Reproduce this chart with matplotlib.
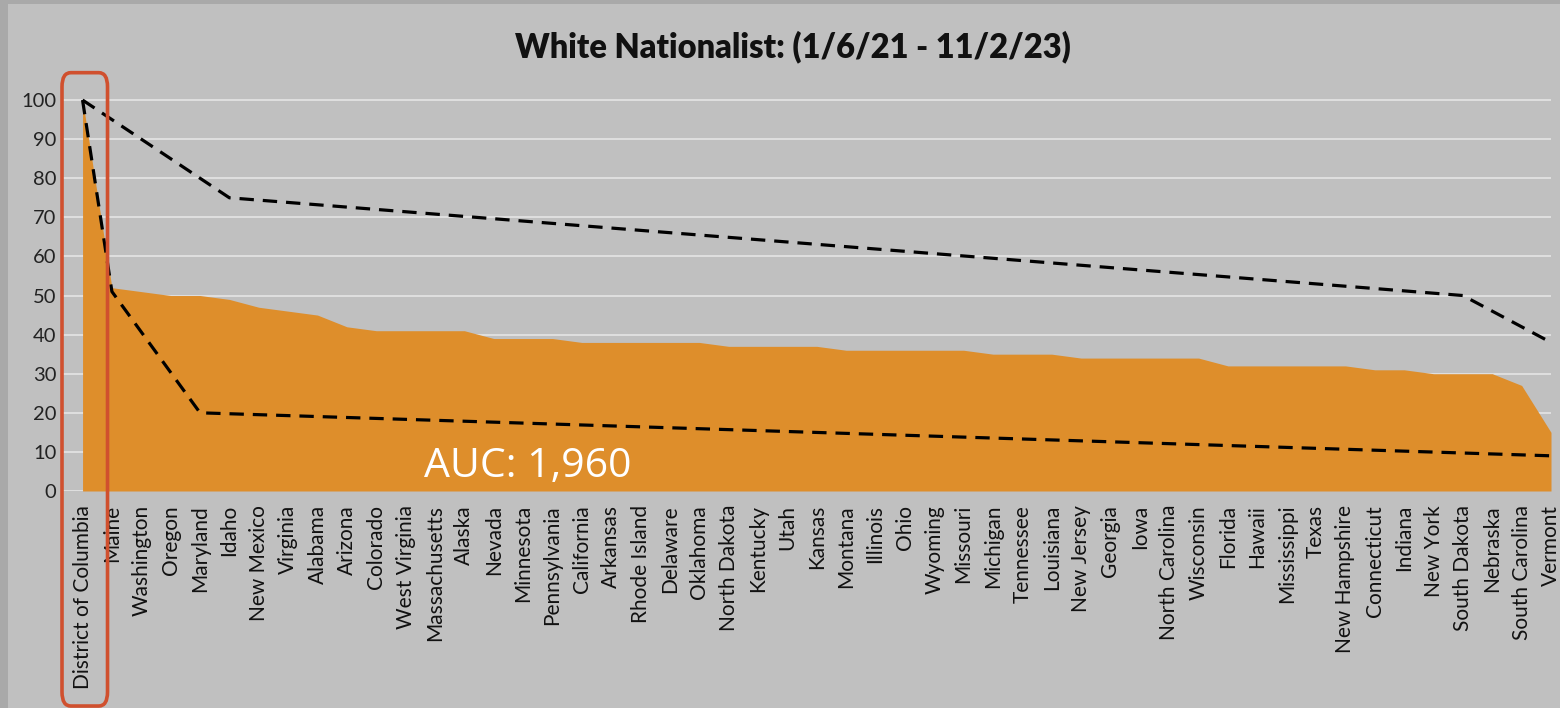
import matplotlib
matplotlib.use("Agg")
import matplotlib.pyplot as plt
from matplotlib.patches import FancyBboxPatch, Rectangle
import numpy as np

states = [
    "District of Columbia", "Maine", "Washington", "Oregon", "Maryland", "Idaho",
    "New Mexico", "Virginia", "Alabama", "Arizona", "Colorado", "West Virginia",
    "Massachusetts", "Alaska", "Nevada", "Minnesota", "Pennsylvania", "California",
    "Arkansas", "Rhode Island", "Delaware", "Oklahoma", "North Dakota", "Kentucky",
    "Utah", "Kansas", "Montana", "Illinois", "Ohio", "Wyoming", "Missouri",
    "Michigan", "Tennessee", "Louisiana", "New Jersey", "Georgia", "Iowa",
    "North Carolina", "Wisconsin", "Florida", "Hawaii", "Mississippi", "Texas",
    "New Hampshire", "Connecticut", "Indiana", "New York", "South Dakota",
    "Nebraska", "South Carolina", "Vermont",
]
scores = [
    100, 52, 51, 50, 50, 49, 47, 46, 45, 42, 41, 41, 41, 41, 39, 39, 39, 38,
    38, 38, 38, 38, 37, 37, 37, 37, 36, 36, 36, 36, 36, 35, 35, 35, 34, 34,
    34, 34, 34, 32, 32, 32, 32, 32, 31, 31, 30, 30, 30, 27, 15,
]
# dashed guide lines (state index, value)
upper_idx = [0, 5, 47, 50]
upper_val = [100, 75, 50, 38]
lower_idx = [0, 1, 4, 50]
lower_val = [100, 51, 20, 9]

title = "White Nationalist: (1/6/21 - 11/2/23)"
auc_label = "AUC: 1,960"

bg = "#c0c0c0"
orange = "#de8e2b"
font = "Lato"

W, H = 1560, 708
fig = plt.figure(figsize=(W / 100, H / 100), dpi=100, facecolor=bg)
# darker frame at left and top edges
fig.patches.append(Rectangle((0, 0), 8 / W, 1, transform=fig.transFigure,
                             facecolor="#a9a9a9", edgecolor="none"))
fig.patches.append(Rectangle((0, 1 - 4 / H), 1, 4 / H, transform=fig.transFigure,
                             facecolor="#a9a9a9", edgecolor="none"))

ax = fig.add_axes([62 / W, (H - 491) / H, 1489 / W, (491 - 80.5) / H])
ax.set_facecolor(bg)

x = np.arange(len(states))
ax.fill_between(x, scores, 0, color=orange, linewidth=0, zorder=2)
ax.plot(upper_idx, upper_val, color="black", lw=2.3, ls=(0, (4.5, 2.8)),
        zorder=3, clip_on=False)
ax.plot(lower_idx, lower_val, color="black", lw=2.3, ls=(0, (4.5, 2.8)),
        zorder=3, clip_on=False)

ax.set_xlim(-0.7, len(states) - 1)
ax.set_ylim(0, 105)
ax.set_yticks(range(0, 101, 10))
ax.yaxis.grid(True, color="#e2e2e2", lw=1.3, zorder=1)
ax.set_axisbelow(True)
for s in ax.spines.values():
    s.set_visible(False)

ax.set_xticks(x)
ax.set_xticklabels(states, rotation=90, ha="center", va="top",
                   family=font, fontsize=15, color="#111111")
ax.tick_params(axis="x", length=0, pad=10)
ax.tick_params(axis="y", length=0, pad=4, labelsize=14.5, labelcolor="#222222")
for t in ax.get_yticklabels():
    t.set_family(font)

ax.text(11.64, 3.6, auc_label, color="white", fontsize=29.5, family="Open Sans",
        ha="left", va="baseline", zorder=4)

fig.text(0.508, 0.934, title, ha="center", va="center", fontsize=23.5,
         fontweight="heavy", family=font, color="#111111")

# red highlight around the first category
box = FancyBboxPatch((-0.7, -55), 1.55, 162, boxstyle="round,pad=0,rounding_size=0.3",
                     mutation_aspect=12, facecolor="none", edgecolor="#d0502e",
                     lw=2.6, clip_on=False, zorder=5)
ax.add_patch(box)

fig.savefig("out.png", dpi=100, facecolor=bg)
